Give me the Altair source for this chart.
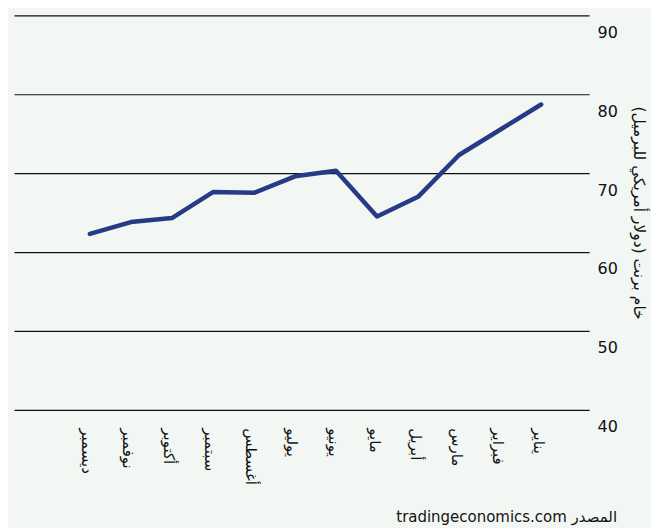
import altair as alt
import pandas as pd
import json

months = ["ديسمبر", "نوفمبر", "أكتوبر", "سبتمبر", "أغسطس", "يوليو",
          "يونيو", "مايو", "أبريل", "مارس", "فبراير", "يناير"]
values = [62.3, 63.8, 64.3, 67.6, 67.5, 69.6, 70.3, 64.5, 67.0, 72.3, 75.5, 78.7]
y_ticks = [40, 50, 60, 70, 80, 90]

df = pd.DataFrame({"idx": list(range(len(months))), "month": months, "value": values})

BG = "#f3f7f4"
LINE = "#263a85"

label_expr = json.dumps(months, ensure_ascii=False) + "[datum.value]"

chart = alt.Chart(df).mark_line(
    color=LINE, strokeWidth=4.5, strokeCap="round", strokeJoin="round"
).encode(
    x=alt.X(
        "idx:Q",
        scale=alt.Scale(domain=[-1.85, 12.17], nice=False, zero=False),
        axis=alt.Axis(
            title=None, values=list(range(len(months))), labelExpr=label_expr,
            labelAngle=90, labelFontSize=15, labelColor="#111111",
            labelFont="DejaVu Sans", domain=False, ticks=False, grid=False,
            labelPadding=18, labelOffset=-3, labelFlush=False, labelOverlap=False,
        ),
    ),
    y=alt.Y(
        "value:Q",
        scale=alt.Scale(domain=[40, 90], nice=False, zero=False),
        axis=alt.Axis(
            orient="right", values=y_ticks, title="خام برنت (دولار أمريكي للبرميل)",
            titleAngle=90, titleFontSize=15.5, titleFontWeight="normal",
            titleFont="DejaVu Sans", titleColor="#111111", titlePadding=13,
            labelFontSize=16, labelFont="DejaVu Sans", labelColor="#111111",
            labelOffset=17, labelPadding=8, domain=False, ticks=False,
            grid=True, gridColor="#111111", gridWidth=1.2, gridOpacity=1,
        ),
    ),
).properties(
    width=576,
    height=395,
    background=BG,
    padding={"left": 6, "top": 7, "right": 5, "bottom": 5},
    title=alt.TitleParams(
        text="tradingeconomics.com المصدر",
        orient="bottom", anchor="end", frame="group", dx=28, offset=26,
        fontSize=15, fontWeight="normal", font="DejaVu Sans", color="#111111",
    ),
).configure_view(
    stroke=None, fill=BG
)

chart.save("out.html", embed_options={"renderer": "svg", "actions": False})
